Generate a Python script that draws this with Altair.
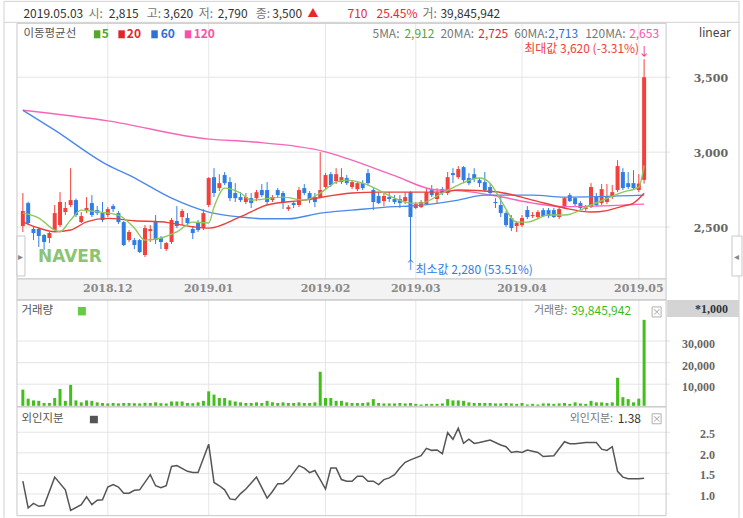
import altair as alt
import pandas as pd

# ---------------- data ----------------
opens = [2507, 2660, 2487, 2487, 2447, 2427, 2480, 2513, 2600, 2647, 2680, 2533, 2607, 2660, 2613, 2593,
         2580, 2640, 2593, 2533, 2413, 2413, 2413, 2313, 2473, 2533, 2427, 2353, 2400, 2540, 2567, 2560,
         2487, 2527, 2493, 2647, 2833, 2760, 2847, 2800, 2727, 2700, 2667, 2693, 2693, 2747, 2747, 2680,
         2747, 2727, 2620, 2660, 2647, 2760, 2727, 2700, 2700, 2767, 2853, 2807, 2800, 2827, 2767, 2753,
         2793, 2860, 2747, 2707, 2673, 2700, 2687, 2687, 2673, 2733, 2627, 2633, 2653, 2753, 2687, 2753,
         2727, 2860, 2833, 2900, 2827, 2853, 2813, 2800, 2767, 2667, 2647, 2593, 2560, 2507, 2513, 2613,
         2573, 2567, 2613, 2613, 2613, 2567, 2633, 2713, 2693, 2660, 2620, 2633, 2707, 2660, 2667, 2700,
         2747, 2867, 2793, 2793, 2747, 2815]
highs = [2727, 2669, 2500, 2500, 2453, 2467, 2647, 2733, 2667, 2893, 2690, 2600, 2700, 2713, 2640, 2667,
         2633, 2653, 2607, 2540, 2480, 2427, 2420, 2513, 2513, 2580, 2440, 2400, 2560, 2640, 2620, 2593,
         2500, 2547, 2620, 2833, 2893, 2853, 2867, 2833, 2793, 2733, 2727, 2727, 2747, 2787, 2800, 2713,
         2760, 2740, 2647, 2673, 2767, 2787, 2740, 2727, 3000, 2860, 2867, 2893, 2893, 2847, 2813, 2800,
         2813, 2887, 2760, 2733, 2733, 2733, 2713, 2713, 2733, 2740, 2667, 2680, 2760, 2780, 2760, 2767,
         2867, 2893, 2907, 2907, 2860, 2893, 2827, 2867, 2793, 2693, 2707, 2607, 2580, 2540, 2580, 2640,
         2600, 2613, 2627, 2627, 2627, 2633, 2700, 2727, 2700, 2673, 2647, 2793, 2727, 2787, 2787, 2780,
         2947, 2893, 2867, 2880, 2853, 3620]
lows = [2467, 2513, 2413, 2367, 2347, 2393, 2467, 2500, 2580, 2633, 2567, 2527, 2593, 2567, 2580, 2533,
        2567, 2600, 2520, 2373, 2400, 2353, 2327, 2300, 2400, 2387, 2353, 2340, 2387, 2493, 2513, 2513,
        2420, 2467, 2480, 2633, 2700, 2740, 2780, 2673, 2667, 2667, 2653, 2627, 2673, 2700, 2647, 2667,
        2700, 2620, 2607, 2627, 2633, 2713, 2660, 2633, 2693, 2753, 2767, 2787, 2787, 2780, 2753, 2740,
        2747, 2780, 2613, 2653, 2640, 2667, 2653, 2627, 2653, 2280, 2620, 2627, 2647, 2700, 2660, 2713,
        2713, 2793, 2820, 2793, 2780, 2800, 2767, 2733, 2713, 2627, 2567, 2500, 2473, 2467, 2500, 2553,
        2560, 2553, 2567, 2560, 2560, 2553, 2620, 2667, 2640, 2613, 2607, 2627, 2640, 2647, 2653, 2687,
        2733, 2747, 2753, 2747, 2733, 2790]
closes = [2607, 2527, 2460, 2440, 2400, 2460, 2593, 2667, 2627, 2680, 2580, 2573, 2627, 2580, 2593, 2547,
          2620, 2620, 2533, 2380, 2467, 2380, 2333, 2493, 2487, 2413, 2400, 2393, 2547, 2507, 2607, 2527,
          2460, 2480, 2593, 2827, 2727, 2793, 2793, 2693, 2693, 2680, 2700, 2660, 2733, 2713, 2667, 2700,
          2713, 2660, 2633, 2647, 2747, 2727, 2680, 2667, 2747, 2847, 2780, 2853, 2833, 2793, 2800, 2793,
          2760, 2793, 2667, 2660, 2707, 2687, 2667, 2660, 2700, 2567, 2653, 2667, 2733, 2713, 2727, 2727,
          2833, 2847, 2887, 2813, 2793, 2820, 2793, 2747, 2727, 2660, 2593, 2513, 2493, 2527, 2560, 2567,
          2580, 2600, 2573, 2573, 2567, 2620, 2693, 2673, 2653, 2627, 2633, 2767, 2647, 2753, 2700, 2733,
          2907, 2760, 2767, 2760, 2790, 3500]
# volume in thousands of shares (the panel is labelled *1,000)
volume_k = [7500, 3300, 2500, 2300, 1300, 1300, 3600, 7800, 2300, 9700, 2500, 1600, 2500, 2300, 1600, 1300,
            1100, 1300, 1100, 1300, 1300, 1200, 1100, 1400, 1300, 1600, 1200, 1100, 2000, 2000, 2000, 1300,
            1200, 1600, 2300, 6700, 5200, 3600, 3600, 2500, 2000, 1600, 1300, 1300, 1600, 1300, 2300, 1600,
            1300, 1600, 1300, 1300, 1600, 1300, 1300, 1600, 15800, 3600, 3600, 2300, 2300, 1600, 1300, 1300,
            1300, 1600, 3100, 1300, 1100, 1100, 1100, 1300, 1100, 1300, 900, 600, 900, 900, 900, 1100,
            3100, 2500, 2500, 2300, 1600, 1300, 1300, 1300, 1300, 1100, 1100, 1300, 1100, 900, 1300, 600,
            900, 600, 1100, 1100, 900, 1100, 1300, 900, 1600, 1100, 900, 2300, 1600, 1600, 1300, 1600,
            13000, 4000, 3100, 1600, 3300, 39846]

ma5_i = [0, 3, 6, 7, 9, 11, 14, 18, 21, 23, 26, 29, 32, 35, 36, 38, 41, 43, 49, 53, 56, 59, 61, 64, 67, 70,
         73, 75, 79, 82, 86, 88, 90, 93, 95, 99, 102, 107, 113, 116, 117]
ma5_v = [2593, 2560, 2480, 2469, 2547, 2613, 2602, 2580, 2493, 2413, 2427, 2467, 2533, 2527, 2633, 2760,
         2727, 2680, 2700, 2680, 2727, 2800, 2813, 2793, 2747, 2693, 2660, 2660, 2727, 2780, 2827, 2793,
         2680, 2533, 2533, 2580, 2580, 2647, 2733, 2767, 2912]
ma20_i = [0, 3, 6, 9, 12, 16, 21, 26, 32, 35, 41, 46, 53, 62, 67, 79, 82, 89, 96, 102, 107, 110, 113, 115, 117]
ma20_v = [2535, 2493, 2469, 2480, 2535, 2558, 2542, 2535, 2502, 2493, 2569, 2647, 2680, 2727, 2733, 2733,
          2747, 2736, 2680, 2627, 2600, 2610, 2640, 2660, 2725]
ma60_i = [0, 6, 16, 20, 28, 35, 41, 46, 50, 56, 62, 70, 73, 82, 87, 96, 102, 117]
ma60_v = [3280, 3147, 2913, 2847, 2693, 2600, 2567, 2555, 2555, 2593, 2613, 2636, 2640, 2680, 2713, 2713,
          2700, 2713]
ma120_i = [0, 16, 35, 43, 57, 61, 70, 78, 81, 90, 96, 102, 108, 117]
ma120_v = [3280, 3209, 3087, 3069, 3002, 2958, 2843, 2747, 2745, 2702, 2660, 2636, 2640, 2653]

fr_i = [0, 1, 2, 3, 4, 6, 8, 9, 11, 12, 13, 14, 15, 16, 17, 18, 19, 20, 21, 22, 24, 25, 26, 27, 28, 29,
        31, 32, 33, 35, 36, 37, 38, 39, 40, 41, 42, 44, 46, 47, 48, 49, 50, 52, 53, 54, 55, 56, 57, 58,
        59, 60, 61, 62, 63, 64, 65, 66, 67, 68, 69, 70, 71, 72, 73, 75, 76, 77, 78, 79, 80, 81, 82, 83,
        84, 85, 86, 88, 90, 91, 92, 93, 94, 95, 97, 98, 100, 102, 103, 104, 106, 108, 109, 110, 111, 112,
        113, 114, 116, 117]
fr_v = [1.31, 0.66, 0.77, 0.70, 0.72, 1.41, 1.10, 0.60, 0.74, 0.93, 0.74, 0.85, 0.86, 1.17, 1.23, 1.17,
        1.02, 1.02, 1.09, 1.10, 1.47, 1.20, 1.15, 1.20, 1.67, 1.69, 1.55, 1.52, 1.52, 2.21, 1.28, 1.20,
        1.10, 0.88, 0.86, 1.01, 1.12, 1.41, 0.90, 1.06, 1.25, 1.25, 1.35, 1.69, 1.63, 1.52, 1.57, 1.35,
        1.12, 1.63, 1.63, 1.35, 1.31, 1.31, 1.43, 1.43, 1.31, 1.31, 1.23, 1.35, 1.39, 1.47, 1.63, 1.77,
        1.83, 1.93, 2.11, 2.06, 2.07, 1.98, 2.49, 2.33, 2.60, 2.23, 2.33, 2.23, 2.25, 2.31, 2.19, 2.15,
        2.01, 2.03, 2.01, 2.07, 2.01, 1.91, 1.93, 2.27, 2.22, 2.22, 2.25, 2.25, 2.09, 2.06, 2.15, 1.55,
        1.41, 1.37, 1.37, 1.38]

month_idx = [16, 35, 57, 74, 94, 116]
month_lbl = ["2018.12", "2019.01", "2019.02", "2019.03", "2019.04", "2019.05"]
price_ticks = [2500, 3000, 3500]
vol_ticks = [10000, 20000, 30000]
fr_ticks = [1.0, 1.5, 2.0, 2.5]
max_pt = {"i": [117], "v": [3620], "t": ["최대값 3,620 (-3.31%)"]}
min_pt = {"i": [73], "v": [2280], "t": ["최소값 2,280 (53.51%)"]}

# ---------------- style / geometry ----------------
RED, BLUE = "#f2403a", "#2f7de6"
C5, C20, C60, C120 = "#8cc860", "#e8413c", "#4b89ea", "#f766b6"
T5, T20, T60, T120 = "#52a82c", "#e0262b", "#2f6fd8", "#ff4fa8"
VGREEN = "#41c01a"
KR = "Noto Sans CJK KR"
W, H = 650, 493          # one plot area from (17,23) to (667,516)
O = (17, 23)
XDOM = [-0.167, 120.2]
GRID = "#e4e4e4"

ONE = pd.DataFrame({"k": [0]})
N = len(closes)
cdf = pd.DataFrame({"i": list(range(N)), "o": opens, "h": highs, "l": lows, "c": closes})
cdf["dir"] = ["up" if c >= o else "down" for o, c in zip(opens, closes)]
vdf = pd.DataFrame({"i": list(range(N)), "v": volume_k})
mdf = pd.DataFrame({"i": month_idx, "lbl": month_lbl})
fdf = pd.DataFrame({"i": fr_i, "v": fr_v})
ptk = pd.DataFrame({"v": price_ticks, "t": [f"{v:,}" for v in price_ticks]})
vtk = pd.DataFrame({"v": vol_ticks, "t": [f"{v:,}" for v in vol_ticks]})
ftk = pd.DataFrame({"v": fr_ticks, "t": [f"{v:.1f}" for v in fr_ticks]})


def rect(x1, y1, x2, y2, fill=None, stroke=None, sw=1):
    kw = {"fill": fill if fill else "white"}
    if fill is None:
        kw["fillOpacity"] = 0
    if stroke:
        kw["stroke"] = stroke
        kw["strokeWidth"] = sw
    return alt.Chart(ONE).mark_rect(**kw).encode(
        x=alt.value(x1 - O[0]), x2=alt.value(x2 - O[0]),
        y=alt.value(y1 - O[1]), y2=alt.value(y2 - O[1]))


def seg(x1, y1, x2, y2, color="#cfcfcf", sw=1):
    return alt.Chart(ONE).mark_rule(color=color, strokeWidth=sw).encode(
        x=alt.value(x1 - O[0]), x2=alt.value(x2 - O[0]),
        y=alt.value(y1 - O[1]), y2=alt.value(y2 - O[1]))


def txt(s, x, y, color="#555", size=12, weight="normal", align="left", font=KR):
    return alt.Chart(ONE).mark_text(text=s, color=color, fontSize=size, fontWeight=weight,
                                    align=align, baseline="middle", font=font).encode(
        x=alt.value(x - O[0]), y=alt.value(y - O[1]))


X = alt.X("i:Q", scale=alt.Scale(domain=XDOM, nice=False, zero=False), axis=None)

# price scale: 2500 -> y 227, 3500 -> y 77 (0.15 px per won)
psc = alt.Scale(domain=[573.33, 3860], nice=False, zero=False)
# volume scale (thousands): 0 -> y 406, 2.16 px per 1,000
vsc = alt.Scale(domain=[-50926, 177315], nice=False, zero=False)
# foreign share scale: 1.0 -> y 494.3, 41.2 px per 1.0
fsc = alt.Scale(domain=[0.4733, 12.439], nice=False, zero=False)


def Y(f, sc):
    return alt.Y(f"{f}:Q", scale=sc, axis=None)


def grid_and_labels(tk, sc, xr, dy, font, size):
    g = alt.Chart(tk).mark_rule(color=GRID, strokeWidth=1).encode(
        y=Y("v", sc), x=alt.value(0), x2=alt.value(W + 4))
    t = alt.Chart(tk).mark_text(align="right", baseline="middle", font=font, fontWeight="bold",
                                fontSize=size, color="#666", dy=dy).encode(
        y=Y("v", sc), x=alt.value(xr - O[0]), text="t:N")
    return g, t


color = alt.Color("dir:N", scale=alt.Scale(domain=["up", "down"], range=[RED, BLUE]), legend=None)

# ---------------- price group ----------------
pg, pt = grid_and_labels(ptk, psc, 729, 2, "DejaVu Serif", 11)
p_layers = [pg,
            alt.Chart(cdf).mark_rule(strokeWidth=1).encode(x=X, y=Y("l", psc), y2="h:Q", color=color),
            alt.Chart(cdf).mark_bar(size=4).encode(x=X, y=Y("o", psc), y2="c:Q", color=color)]
for idx, vals, col in [(ma120_i, ma120_v, C120), (ma60_i, ma60_v, C60), (ma20_i, ma20_v, C20), (ma5_i, ma5_v, C5)]:
    d = pd.DataFrame({"i": idx, "v": vals})
    p_layers.append(alt.Chart(d).mark_line(color=col, strokeWidth=1.4, interpolate="monotone").encode(
        x=X, y=Y("v", psc)))
p_layers += [
    pt,
    alt.Chart(pd.DataFrame(max_pt)).mark_text(align="right", baseline="middle", color=RED, font=KR,
                                              fontSize=12, dx=-5, dy=-10).encode(x=X, y=Y("v", psc), text="t:N"),
    alt.Chart(pd.DataFrame(max_pt)).mark_text(align="center", baseline="middle", color=RED, font=KR,
                                              fontSize=12, dy=-7, text="↓").encode(x=X, y=Y("v", psc)),
    alt.Chart(pd.DataFrame(min_pt)).mark_text(align="left", baseline="middle", color=BLUE, font=KR,
                                              fontSize=12, dx=5, dy=10).encode(x=X, y=Y("v", psc), text="t:N"),
    alt.Chart(pd.DataFrame(min_pt)).mark_text(align="center", baseline="middle", color=BLUE, font=KR,
                                              fontSize=12, dy=6, text="↑").encode(x=X, y=Y("v", psc)),
]
price_group = alt.layer(*p_layers)

# ---------------- volume group ----------------
vg, vt = grid_and_labels(vtk, vsc, 716, 3, "Liberation Serif", 12)
volume_group = alt.layer(
    vg,
    alt.Chart(vdf).mark_bar(size=3, color=VGREEN).encode(x=X, y=Y("v", vsc), y2=alt.datum(0)),
    vt)

# ---------------- foreign share group ----------------
fg, ft = grid_and_labels(ftk, fsc, 716, 2, "Liberation Serif", 12)
foreign_group = alt.layer(
    fg,
    alt.Chart(fdf).mark_line(color="#555555", strokeWidth=1.5).encode(x=X, y=Y("v", fsc)),
    ft)

months_rule = alt.Chart(mdf).mark_rule(color="#e6e6e6", strokeWidth=1).encode(x=X)

background = [
    rect(0, 0, 743, 518, fill="white"),
    rect(4, 1, 740, 22, fill="white", stroke="#d2d2d2"),
    seg(4, 22, 4, 518), seg(740, 22, 740, 518),
    months_rule,
]

overlay = [
    # frames of the three panels and the date band
    rect(17, 23, 667, 279, stroke="#c8c8c8"),
    rect(17, 279, 667, 300, fill="#f3f3f3", stroke="#c8c8c8"),
    rect(17, 300, 667, 407, stroke="#c8c8c8"),
    rect(17, 407, 667, 516, stroke="#c8c8c8"),
    alt.Chart(mdf).mark_text(font="DejaVu Serif", fontWeight="bold", fontSize=11, color="#8a8a8a",
                             baseline="middle").encode(x=X, y=alt.value(289.5 - O[1]), text="lbl:N"),
    rect(17, 236, 25, 276, fill="white", stroke="#c8c8c8"),
    txt("▸", 21, 257, "#888", 10, align="center"),
    rect(733, 236, 743, 276, fill="white", stroke="#c8c8c8"),
    txt("◂", 737.5, 257, "#888", 10, align="center"),
    txt("NAVER", 38, 257, "#8cc474", 17, "bold", font="DejaVu Sans"),
    txt("linear", 700, 33, "#444", 12, font="Noto Sans"),
    # header line
    txt("2019.05.03", 23.5, 13.5, "#333"),
    txt("시:", 88.5, 13.5, "#777"), txt("2,815", 109, 13.5, "#333"),
    txt("고:", 147, 13.5, "#777"), txt("3,620", 163.5, 13.5, "#333"),
    txt("저:", 199, 13.5, "#777"), txt("2,790", 218, 13.5, "#333"),
    txt("종:", 256, 13.5, "#777"), txt("3,500", 272.5, 13.5, "#333"),
    txt("▲", 308, 13.5, "#e8282b", 11),
    txt("710", 348, 13.5, "#e8282b"), txt("25.45%", 377, 13.5, "#e8282b"),
    txt("거:", 423, 13.5, "#777"), txt("39,845,942", 441, 13.5, "#333"),
    # moving-average legend
    txt("이동평균선", 23.5, 33.5, "#555", 11.5),
    rect(94, 30, 100.5, 38, fill=T5), txt("5", 102, 34, T5, 12, "bold"),
    rect(118.5, 30, 125, 38, fill=T20), txt("20", 127, 34, T20, 12, "bold"),
    rect(151.5, 30, 158, 38, fill=T60), txt("60", 161, 34, T60, 12, "bold"),
    rect(185, 30, 191.5, 38, fill=T120), txt("120", 194, 34, T120, 12, "bold"),
    txt("5MA:", 373, 33.5, "#777"), txt("2,912", 405, 33.5, T5),
    txt("20MA:", 441, 33.5, "#777"), txt("2,725", 479, 33.5, T20),
    txt("60MA:", 515, 33.5, "#777"), txt("2,713", 549, 33.5, T60),
    txt("120MA:", 586, 33.5, "#777"), txt("2,653", 630, 33.5, T120),
    # volume header
    rect(668, 300, 740, 317, fill="#d4d4d4"),
    txt("*1,000", 729, 309, "#333", 12, "bold", align="right", font="Liberation Serif"),
    txt("거래량", 21.5, 311.5, "#555", 11.5),
    rect(78, 307, 86, 315.5, fill="#66cc44"),
    txt("거래량:", 568, 311.5, "#777", 11, align="right"),
    txt("39,845,942", 572, 311.5, "#3cba19", 12),
    rect(653, 307, 662, 317, fill="white", stroke="#b0b0b0"),
    txt("×", 657.5, 312, "#999", 9, align="center"),
    # foreign-share header
    txt("외인지분", 21.5, 419.5, "#555", 11.5),
    rect(90, 416, 98, 423.5, fill="#555555"),
    txt("외인지분:", 614, 419.5, "#777", 11, align="right"),
    txt("1.38", 618.5, 419.5, "#333", 12),
    rect(653, 414, 662, 424, fill="white", stroke="#b0b0b0"),
    txt("×", 657.5, 419, "#999", 9, align="center"),
]

chart = alt.layer(
    *background, price_group, volume_group, foreign_group, *overlay
).resolve_scale(y="independent").properties(width=W, height=H, padding=0).configure_view(stroke=None)
chart.save("out.html", embed_options={"renderer": "svg", "actions": False})
